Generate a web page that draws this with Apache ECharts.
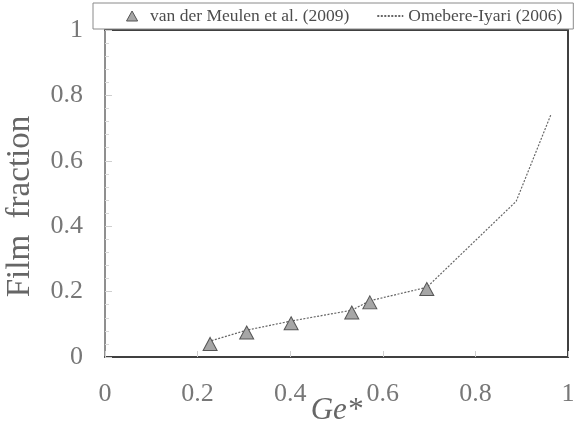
<!DOCTYPE html>
<html>
<head>
<meta charset="utf-8">
<script src="https://cdn.jsdelivr.net/npm/echarts@6/dist/echarts.min.js"></script>
<style>html,body{margin:0;padding:0;background:#fff}#c{width:578px;height:429px}</style>
</head>
<body>
<div id="c"></div>
<script>
// Experimental data: van der Meulen et al. (2009)
var expGe = [0.227, 0.306, 0.402, 0.533, 0.572, 0.695];
var expFilm = [0.040, 0.075, 0.103, 0.136, 0.167, 0.208];
// Correlation: Omebere-Iyari (2006)
var corGe = [0.23, 0.306, 0.402, 0.533, 0.572, 0.695, 0.888, 0.963];
var corFilm = [0.050, 0.082, 0.110, 0.143, 0.172, 0.213, 0.476, 0.741];
var xTicks = [0, 0.2, 0.4, 0.6, 0.8, 1];
var yTicks = [0, 0.2, 0.4, 0.6, 0.8, 1];
var seriesNames = ['van der Meulen et al. (2009)', 'Omebere-Iyari (2006)'];

var serif = '"Liberation Serif", "Times New Roman", serif';
function pairs(xs, ys) { return xs.map(function (x, i) { return [x, ys[i]]; }); }
function fmt(v) { return String(Math.round(v * 10) / 10); }

var chart = echarts.init(document.getElementById('c'), null, { renderer: 'canvas' });
chart.setOption({
  animation: false,
  backgroundColor: '#fff',
  grid: { left: 105, right: 10, top: 30, bottom: 72, containLabel: false, outerBoundsMode: 'none' },
  legend: {
    left: 93, top: 3, width: 450,
    padding: [4, 11, 4, 33],
    itemGap: 27, itemWidth: 26, itemHeight: 10,
    borderColor: '#8a8a8a', borderWidth: 1, backgroundColor: '#fff',
    textStyle: { fontFamily: serif, fontSize: 17.5, color: '#4d4d4d' },
    data: [
      { name: seriesNames[0], icon: 'path://M5,0L10,9L0,9Z', itemStyle: { color: '#a6a6a6', borderColor: '#555', borderWidth: 1 } },
      { name: seriesNames[1], itemStyle: { color: 'rgba(0,0,0,0)', borderWidth: 0, opacity: 0 } }
    ]
  },
  xAxis: [{
    type: 'value', min: 0, max: 1, interval: 0.2,
    name: 'Ge*', nameLocation: 'middle', nameGap: 38, nameMoveOverlap: false,
    nameTextStyle: { fontFamily: serif, fontSize: 31, fontStyle: 'italic', color: '#666' },
    axisLine: { show: true, lineStyle: { color: '#404040', width: 2 } },
    axisTick: { show: true, inside: true, length: 6, lineStyle: { color: '#cfcfcf', width: 1 } },
    axisLabel: { margin: 24, fontFamily: serif, fontSize: 26, color: '#777', formatter: fmt },
    splitLine: { show: false }
  }, {
    type: 'value', min: 0, max: 1, position: 'top',
    axisLine: { show: true, onZero: false, lineStyle: { color: '#404040', width: 2 } },
    axisTick: { show: false }, axisLabel: { show: false }, splitLine: { show: false }
  }],
  yAxis: [{
    type: 'value', min: 0, max: 1, interval: 0.2,
    name: 'Film  fraction', nameLocation: 'middle', nameGap: 68, nameRotate: 90, nameMoveOverlap: false,
    nameTextStyle: { fontFamily: serif, fontSize: 33, color: '#666', padding: [0, 26, 0, 0] },
    axisLine: { show: true, lineStyle: { color: '#8f8f8f', width: 2 } },
    axisTick: { show: true, inside: true, length: 7, lineStyle: { color: '#cfcfcf', width: 1 } },
    minorTick: { show: true, splitNumber: 5, length: 4, lineStyle: { color: '#d8d8d8', width: 1 } },
    axisLabel: { margin: 22, fontFamily: serif, fontSize: 26, color: '#777', formatter: fmt },
    splitLine: { show: false }
  }, {
    type: 'value', min: 0, max: 1, position: 'right',
    axisLine: { show: true, onZero: false, lineStyle: { color: '#404040', width: 2 } },
    axisTick: { show: false }, axisLabel: { show: false }, splitLine: { show: false }
  }],
  series: [{
    name: seriesNames[1], type: 'line', xAxisIndex: 0, yAxisIndex: 0,
    data: pairs(corGe, corFilm), symbol: 'none', z: 2,
    lineStyle: { color: '#666', width: 1.2, type: [2, 1.5] },
    itemStyle: { color: '#666' }
  }, {
    name: seriesNames[0], type: 'scatter', xAxisIndex: 0, yAxisIndex: 0,
    data: pairs(expGe, expFilm), symbol: 'triangle', symbolSize: [14, 13], z: 3,
    itemStyle: { color: '#a6a6a6', borderColor: '#555', borderWidth: 1, opacity: 1 }
  }]
});
</script>
</body>
</html>
